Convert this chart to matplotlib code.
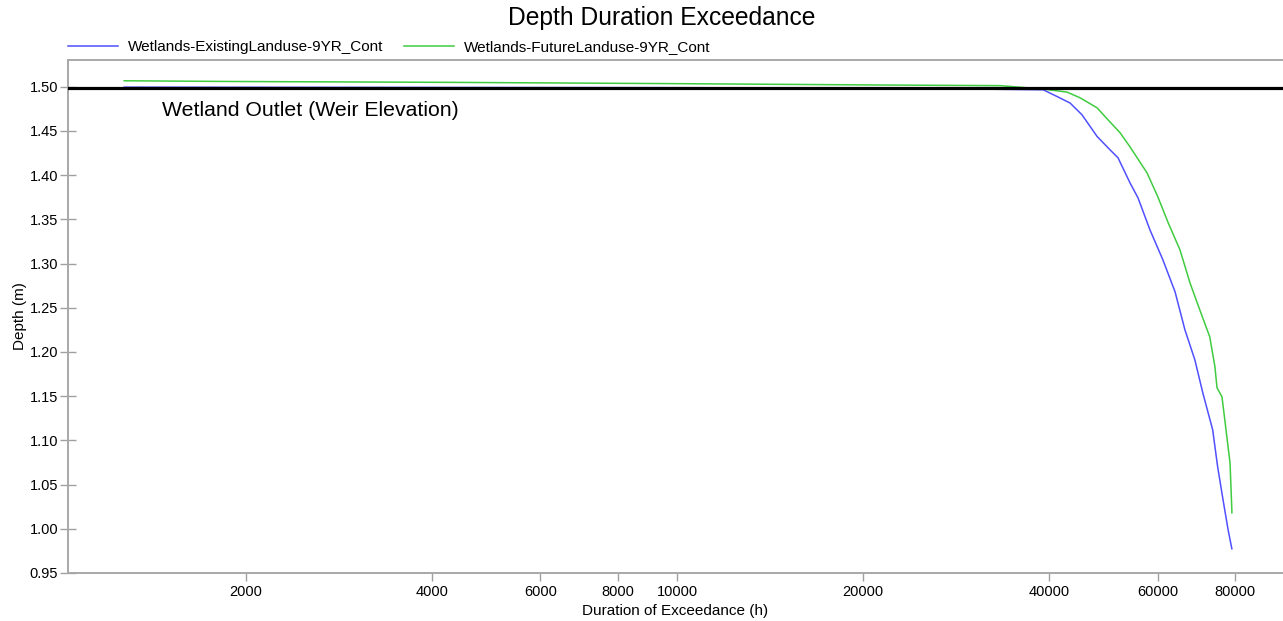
import numpy as np
import matplotlib
matplotlib.use("Agg")
import matplotlib.pyplot as plt
from matplotlib.ticker import FixedLocator, NullLocator, FixedFormatter

plt.rcParams['font.family'] = ['Liberation Sans', 'DejaVu Sans']

###------------- data -------------###
# duration of exceedance (h) and depth (m)
existing_x = [1270, 9660, 21550, 22960, 30000, 39130, 41200, 43260, 45220, 47840,
              50200, 51720, 54080, 55720, 58260, 61140, 63980, 66380, 68880,
              70960, 73620, 75000, 76520, 77980, 79080]
existing_y = [1.4996, 1.4990, 1.4985, 1.4977, 1.4975, 1.4966, 1.489, 1.4816, 1.4683, 1.4438,
              1.4287, 1.4197, 1.3914, 1.3744, 1.3382, 1.3043, 1.2681, 1.2251, 1.1912,
              1.1538, 1.1120, 1.0701, 1.0328, 0.9989, 0.9774]

future_x = [1270, 1904, 4295, 9660, 21550, 33350, 39130, 42760, 44880, 47840, 49820,
            52120, 54080, 57620, 60000, 62360, 65160, 67640, 70160, 72820, 74240,
            74820, 76220, 77620, 78540, 79080, 79080]
future_y = [1.5068, 1.5060, 1.5050, 1.5036, 1.5020, 1.5013, 1.4974, 1.4940, 1.4876, 1.4762,
            1.4627, 1.4480, 1.4321, 1.4027, 1.3756, 1.3462, 1.3156, 1.2783, 1.2477,
            1.2172, 1.1833, 1.1595, 1.1493, 1.1041, 1.0747, 1.0215, 1.0181]

weir = 1.4988

xticks = [2000, 4000, 6000, 8000, 10000, 20000, 40000, 60000, 80000]
yticks = [0.95, 1.00, 1.05, 1.10, 1.15, 1.20, 1.25, 1.30, 1.35, 1.40, 1.45, 1.50]

###------------- figure -------------###
fig = plt.figure(figsize=(12.83, 6.21), dpi=100)
ax = fig.add_axes([68/1283, 1-573/621, 1-68/1283, (573-60)/621])

ax.plot(existing_x, existing_y, color='#5050ff', lw=1.1,
        label='Wetlands-ExistingLanduse-9YR_Cont')
ax.plot(future_x, future_y, color='#40cc40', lw=1.1,
        label='Wetlands-FutureLanduse-9YR_Cont')
ax.axhline(weir, color='black', lw=2.3, zorder=5)
ax.text(1462, 1.4735, 'Wetland Outlet (Weir Elevation)', fontsize=15.3, va='center')

ax.set_xscale('log')
ax.set_xlim(1030, 95700)
ax.set_ylim(0.95, 1.5303)
ax.xaxis.set_major_locator(FixedLocator(xticks))
ax.xaxis.set_major_formatter(FixedFormatter([str(t) for t in xticks]))
ax.xaxis.set_minor_locator(NullLocator())
ax.set_yticks(yticks)
ax.set_yticklabels(['%.2f' % t for t in yticks])

ax.spines['right'].set_visible(False)
for s in ['left', 'bottom', 'top']:
    ax.spines[s].set_color('#a8a8a8')
    ax.spines[s].set_linewidth(1.4)
ax.tick_params(axis='x', direction='out', length=6, width=1, color='#a0a0a0',
               labelsize=10.5, pad=3)
ax.tick_params(axis='y', direction='inout', length=12, width=1, color='#a0a0a0',
               labelsize=10.5, pad=1)

ax.set_xlabel('Duration of Exceedance (h)', fontsize=11, labelpad=3)
ax.set_ylabel('Depth (m)', fontsize=11, labelpad=2)

fig.text(662/1283, 1-18/621, 'Depth Duration Exceedance', fontsize=17.7,
         ha='center', va='center')
ax.legend(loc='center left', bbox_to_anchor=(68/1283, 1-47/621),
          bbox_transform=fig.transFigure, ncol=2, frameon=False, fontsize=11,
          borderpad=0, borderaxespad=0, handlelength=3.3, handletextpad=0.65,
          columnspacing=1.3)

fig.savefig('out.png', dpi=100)
